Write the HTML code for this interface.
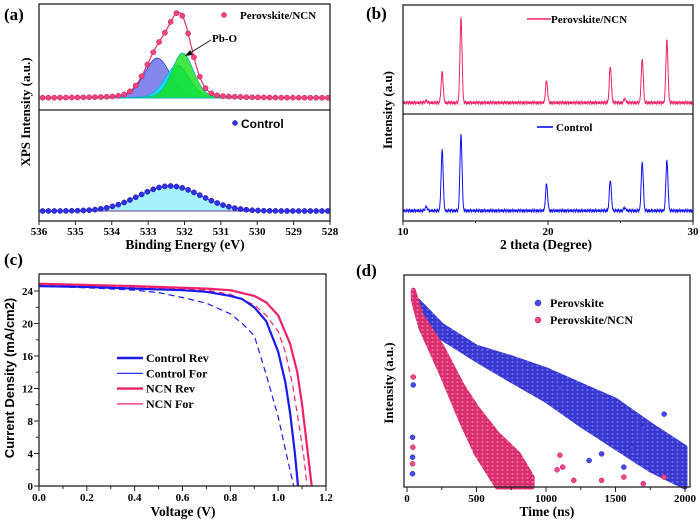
<!DOCTYPE html>
<html><head><meta charset="utf-8"><style>
html,body{margin:0;padding:0;background:#fff;}
svg{display:block;font-family:"Liberation Serif",serif;font-weight:bold;}
.s{font-family:"Liberation Sans",sans-serif;}
</style></head><body>
<svg id="fig" width="700" height="521" viewBox="0 0 700 521" xmlns="http://www.w3.org/2000/svg">
<defs>
<pattern id="bluedots" width="5" height="4" patternUnits="userSpaceOnUse"><rect width="5" height="4" fill="#3b3bd8"/><circle cx="2.5" cy="2" r="1.6" fill="#6a6af0" stroke="#1a1ab0" stroke-width="0.5"/></pattern>
<pattern id="pinkdots" width="5" height="4" patternUnits="userSpaceOnUse"><rect width="5" height="4" fill="#e0306f"/><circle cx="2.5" cy="2" r="1.6" fill="#f36a98" stroke="#c01050" stroke-width="0.5"/></pattern>
</defs>
<g id="gA"></g>
<g id="gB"></g>
<g id="gC"></g>
<g id="gD"></g>
</svg>
<script>
// ---------- Panel (a) data: XPS O1s fit ----------
const aTopCenters = [532.75, 532.2, 532.05];
const aTopHeights = [40, 33, 45];
const aTopSigmas = [0.36, 0.33, 0.30];
const aTopColors = ["#6f73ea", "#00eef2", "#14e014"];
const aBotCenters = [532.4];
const aBotHeights = [25];
const aBotSigmas = [0.86];
const aTicks = [536, 535, 534, 533, 532, 531, 530, 529, 528];
// ---------- Panel (b) data: XRD ----------
const bPeakPos = [11.6, 12.7, 14.0, 19.9, 24.3, 25.3, 26.5, 28.2];
const bNcnHeights = [2, 31, 86, 22, 37, 4, 44, 64];
const bCtrlHeights = [4, 61, 77, 27, 31, 3, 49, 51];
const bNoise = [1,2,0,3,1,2,1,0,2,3,1,1,2,0,1,3,2,1,0,2,1,3,1,2,0,1,2,3,1,0,2,1];
const bTicks = [10, 20, 30];
// ---------- Panel (c) data: J-V ----------
const cCtrlRevV = [0,0.2,0.4,0.6,0.7,0.8,0.85,0.9,0.95,1.0,1.03,1.05,1.07,1.083];
const cCtrlRevJ = [24.6,24.5,24.3,24.1,23.9,23.4,23.0,22.0,20.3,16.5,12.8,9,4,0];
const cCtrlForV = [0,0.2,0.4,0.5,0.6,0.7,0.8,0.85,0.9,0.95,1.0,1.04,1.065];
const cCtrlForJ = [24.6,24.4,24.1,23.8,23.2,22.5,21.2,20.0,18.5,13.7,8.5,3.2,0];
const cNcnRevV = [0,0.4,0.7,0.8,0.9,0.95,1.0,1.05,1.08,1.1,1.12,1.14];
const cNcnRevJ = [24.9,24.6,24.3,24.1,23.4,22.6,21,17.5,14,10,5,0];
const cNcnForV = [0,0.4,0.7,0.8,0.9,0.95,1.0,1.03,1.06,1.09,1.11,1.12];
const cNcnForJ = [24.8,24.5,24.1,23.6,22.3,21,19,16.5,12.5,7,3,0];
const cXTicks = [0,0.2,0.4,0.6,0.8,1.0,1.2];
const cYTicks = [0,4,8,12,16,20,24];
// ---------- Panel (d) data: TRPL (log intensity envelopes) ----------
const dBlueT = [60,250,500,750,1000,1250,1500,1750,2000];
const dBlueUpper = [2.85,2.44,2.11,1.95,1.77,1.54,1.31,0.94,0.60];
const dBlueLower = [2.75,2.25,1.92,1.61,1.31,0.94,0.60,0.26,0];
const dPinkT = [45,100,250,400,500,650,800,900];
const dPinkUpper = [2.97,2.6,2.12,1.52,1.2,0.8,0.5,0.15];
const dPinkLower = [2.82,2.4,1.7,0.95,0.5,0,0,0];
const dBlueOutT = [45,40,40,40,1100,1310,1400,1560,1620,1700,1850];
const dBlueOutL = [1.54,0.75,0.45,0.2,1.5,0.4,0.5,0.3,0.6,0.9,1.1];
const dPinkOutT = [45,42,40,1100,1080,1120,1200,1400,1560,1700,1850];
const dPinkOutL = [1.66,0.6,0.35,0.48,0.26,0.3,0.1,0.1,0.15,0.05,0.15];
const dTicks = [0,500,1000,1500,2000];

const NS="http://www.w3.org/2000/svg";
function mk(parent, tag, attrs, text){const e=document.createElementNS(NS,tag);for(const k in attrs)e.setAttribute(k,attrs[k]);if(text!==undefined)e.textContent=text;parent.appendChild(e);return e;}
function gauss(x,c,h,s){return h*Math.exp(-((x-c)*(x-c))/(2*s*s));}
function voigt(x,c,h,s){const g=s*1.18;return h*(0.8*Math.exp(-((x-c)*(x-c))/(2*s*s))+0.2/(1+((x-c)/g)*((x-c)/g)));}
function pts(arr){return arr.map(p=>p[0].toFixed(1)+","+p[1].toFixed(1)).join(" ");}

// ======= Panel A =======
(function(){
const g=document.getElementById('gA');
const xa=e=>39+(536-e)*36.375;
const topBase=98, botBase=211;
for(let i=0;i<aTopCenters.length;i++){
  const p=[[xa(536),topBase]];
  for(let e=536;e>=528;e-=0.02)p.push([xa(e),topBase-voigt(e,aTopCenters[i],aTopHeights[i],aTopSigmas[i])]);
  p.push([xa(528),topBase]);
  const el=mk(g,'polygon',{points:pts(p),fill:aTopColors[i],'fill-opacity':i==0?0.85:0.8,stroke:i==0?"#2a40d0":"#10b0c0",'stroke-width':0.8});
  
  
}
const env=[];
for(let e=536;e>=528;e-=0.02){let s=0;for(let i=0;i<aTopCenters.length;i++)s+=voigt(e,aTopCenters[i],aTopHeights[i],aTopSigmas[i]);env.push([xa(e),topBase-s]);}
let el=mk(g,'polyline',{points:pts(env),fill:'none',stroke:'#e8306a','stroke-width':1.2});


for(let e=535.9;e>=528;e-=0.16){let s=0;for(let i=0;i<aTopCenters.length;i++)s+=voigt(e,aTopCenters[i],aTopHeights[i],aTopSigmas[i]);
  const d=mk(g,'circle',{cx:xa(e),cy:topBase-s,r:2.6,fill:'#f2457e',stroke:'#c0104a','stroke-width':0.5});
  
  }
const bp=[[xa(536),botBase]];
for(let e=536;e>=528;e-=0.02){let s=0;for(let i=0;i<aBotCenters.length;i++)s+=gauss(e,aBotCenters[i],aBotHeights[i],aBotSigmas[i]);bp.push([xa(e),botBase-s]);}
bp.push([xa(528),botBase]);
el=mk(g,'polygon',{points:pts(bp),fill:'#a6f2fa',stroke:'#6a3a8a','stroke-width':1});


for(let e=535.9;e>=528;e-=0.16){let s=0;for(let i=0;i<aBotCenters.length;i++)s+=gauss(e,aBotCenters[i],aBotHeights[i],aBotSigmas[i]);
  const d=mk(g,'circle',{cx:xa(e),cy:botBase-s,r:2.6,fill:'#3030e8',stroke:'#1010a0','stroke-width':0.5});
  
  }
el=mk(g,'rect',{x:39,y:4,width:291,height:217,fill:'none',stroke:'#222','stroke-width':1.3});


el=mk(g,'line',{x1:39,y1:110,x2:330,y2:110,stroke:'#222','stroke-width':1.3});


aTicks.forEach(t=>{
  const tk=mk(g,'line',{x1:xa(t),y1:221,x2:xa(t),y2:225,stroke:'#222','stroke-width':1});
  
  
  const tl=mk(g,'text',{x:xa(t),y:235,'font-size':11,'text-anchor':'middle'},String(t));
  
  
});
el=mk(g,'text',{x:185,y:249,'font-size':13.5,'text-anchor':'middle'},'Binding Energy (eV)');


el=mk(g,'text',{x:0,y:0,'font-size':13,'text-anchor':'middle',transform:'translate(30,112) rotate(-90)'},'XPS Intensity (a.u.)');


el=mk(g,'text',{x:4,y:20,'font-size':17},'(a)');


el=mk(g,'circle',{cx:224,cy:15,r:2.5,fill:'#f2457e',stroke:'#c0104a','stroke-width':0.5});


el=mk(g,'text',{x:240,y:19,'font-size':11},'Perovskite/NCN');


el=mk(g,'text',{x:212,y:42,'font-size':11},'Pb-O');


el=mk(g,'line',{x1:211,y1:40,x2:190,y2:53,stroke:'#111','stroke-width':1});


el=mk(g,'polygon',{points:'185,56 190,50 193,55',fill:'#111'});


el=mk(g,'circle',{cx:235,cy:123,r:2.5,fill:'#3030e8',stroke:'#1010a0','stroke-width':0.5});


el=mk(g,'text',{x:241,y:128,'font-size':12,'class':'s'},'Control');


})();

// ======= Panel B =======
(function(){
const g=document.getElementById('gB');
const xb=t=>403+(t-10)*14.5;
function trace(base,heights,color,name){
  const p=[];let k=0;
  for(let t=10;t<=30.001;t+=0.03){
    let s=bNoise[k%bNoise.length]*0.9; k++;
    for(let i=0;i<bPeakPos.length;i++)s+=gauss(t,bPeakPos[i],heights[i],0.07);
    p.push([xb(t),base-s]);
  }
  const el=mk(g,'polyline',{points:pts(p),fill:'none',stroke:color,'stroke-width':1});
  
  
}
trace(104,bNcnHeights,'#f0206a','xrd-ncn-trace');
trace(212,bCtrlHeights,'#1010f0','xrd-control-trace');
let el=mk(g,'rect',{x:403,y:5,width:290,height:216,fill:'none',stroke:'#222','stroke-width':1.3});


el=mk(g,'line',{x1:403,y1:114,x2:693,y2:114,stroke:'#222','stroke-width':1.3});


[15,25].forEach(t=>{const m=mk(g,'line',{x1:xb(t),y1:221,x2:xb(t),y2:223,stroke:'#222'});
  
  });
bTicks.forEach(t=>{
  const tk=mk(g,'line',{x1:xb(t),y1:221,x2:xb(t),y2:225,stroke:'#222'});
  
  
  const tl=mk(g,'text',{x:xb(t),y:235,'font-size':11,'text-anchor':'middle'},String(t));
  
  
});
el=mk(g,'text',{x:546,y:249,'font-size':13.5,'text-anchor':'middle'},'2 theta (Degree)');


el=mk(g,'text',{x:0,y:0,'font-size':13,'text-anchor':'middle',transform:'translate(392,110) rotate(-90)'},'Intensity (a.u)');


el=mk(g,'text',{x:366,y:19,'font-size':17},'(b)');


el=mk(g,'line',{x1:527,y1:19,x2:551,y2:19,stroke:'#f0206a','stroke-width':1.6});


el=mk(g,'text',{x:551,y:23,'font-size':11},'Perovskite/NCN');


el=mk(g,'line',{x1:537,y1:127,x2:553,y2:127,stroke:'#1010f0','stroke-width':1.6});


el=mk(g,'text',{x:556,y:131,'font-size':11},'Control');


})();

// ======= Panel C =======
(function(){
const g=document.getElementById('gC');
const xc=v=>39+v*239.17, yc=j=>486-j*8.125;
function curve(V,J,color,w,dash,name){
  const el=mk(g,'polyline',{points:pts(V.map((v,i)=>[xc(v),yc(J[i])])),fill:'none',stroke:color,'stroke-width':w,'stroke-dasharray':dash,'stroke-linejoin':'round'});
  
  
}
curve(cCtrlForV,cCtrlForJ,'#1a1af0',1.2,'6,4','control-for-curve');
curve(cNcnForV,cNcnForJ,'#f0206a',1.2,'6,4','ncn-for-curve');
curve(cCtrlRevV,cCtrlRevJ,'#1a1af0',2.2,'none','control-rev-curve');
curve(cNcnRevV,cNcnRevJ,'#f0206a',2.2,'none','ncn-rev-curve');
let el=mk(g,'rect',{x:39,y:274,width:287,height:212,fill:'none',stroke:'#222','stroke-width':1.3});


for(let v=0.1;v<1.2;v+=0.2){const m=mk(g,'line',{x1:xc(v),y1:486,x2:xc(v),y2:489,stroke:'#222'});
  
  }
for(let j=2;j<26;j+=4){const m=mk(g,'line',{x1:36,y1:yc(j),x2:39,y2:yc(j),stroke:'#222'});
  
  }
cXTicks.forEach(t=>{
  const tk=mk(g,'line',{x1:xc(t),y1:486,x2:xc(t),y2:491,stroke:'#222'});
  
  
  const tl=mk(g,'text',{x:xc(t),y:501,'font-size':11,'text-anchor':'middle'},t.toFixed(1));
  
  
});
cYTicks.forEach(t=>{
  const tk=mk(g,'line',{x1:34,y1:yc(t),x2:39,y2:yc(t),stroke:'#222'});
  
  
  const tl=mk(g,'text',{x:33,y:yc(t)+4,'font-size':11,'text-anchor':'end'},String(t));
  
  
});
el=mk(g,'text',{x:183,y:516,'font-size':13.5,'text-anchor':'middle'},'Voltage (V)');


el=mk(g,'text',{x:0,y:0,'font-size':13,'text-anchor':'middle','class':'s',transform:'translate(14,378) rotate(-90)'},'Current Density (mA/cm2)');


el=mk(g,'text',{x:4,y:265,'font-size':17},'(c)');


const leg=[['Control Rev','#1a1af0',2.4],['Control For','#1a1af0',1.2],['NCN Rev','#f0206a',2.4],['NCN For','#f0206a',1.2]];
leg.forEach((L,i)=>{
  const y=358+i*15.3;
  const ln=mk(g,'line',{x1:117,y1:y,x2:143,y2:y,stroke:L[1],'stroke-width':L[2]});
  
  
  const tx=mk(g,'text',{x:146,y:y+4,'font-size':12},L[0]);
  
  
});
})();

// ======= Panel D =======
(function(){
const g=document.getElementById('gD');
const xd=t=>407+t*0.139, yd=l=>487-l*66.25;
function band(T,U,Lo,fill,name){
  const p=T.map((t,i)=>[xd(t),yd(U[i])]).concat(T.slice().reverse().map((t,i)=>[xd(t),yd(Lo[T.length-1-i])]));
  const el=mk(g,'polygon',{points:pts(p),fill:fill,stroke:fill,'stroke-width':5,'stroke-linejoin':'round'});
  
  
}
band(dBlueT,dBlueUpper,dBlueLower,'url(#bluedots)','trpl-perovskite-points');
band(dPinkT,dPinkUpper,dPinkLower,'url(#pinkdots)','trpl-ncn-points');
dBlueOutT.forEach((t,i)=>{const c=mk(g,'circle',{cx:xd(t),cy:yd(dBlueOutL[i]),r:2.5,fill:'#4a4ae8',stroke:'#1a1ab0','stroke-width':0.5});
  
  });
dPinkOutT.forEach((t,i)=>{const c=mk(g,'circle',{cx:xd(t),cy:yd(dPinkOutL[i]),r:2.5,fill:'#f04a88',stroke:'#c01050','stroke-width':0.5});
  
  });
let el=mk(g,'rect',{x:404,y:275,width:286,height:212,fill:'none',stroke:'#222','stroke-width':1.3});


for(let t=250;t<2000;t+=500){const m=mk(g,'line',{x1:xd(t),y1:487,x2:xd(t),y2:490,stroke:'#222'});
  
  }
dTicks.forEach(t=>{
  const tk=mk(g,'line',{x1:xd(t),y1:487,x2:xd(t),y2:492,stroke:'#222'});
  
  
  const tl=mk(g,'text',{x:xd(t),y:502,'font-size':11,'text-anchor':'middle'},String(t));
  
  
});
el=mk(g,'text',{x:547,y:516,'font-size':13.5,'text-anchor':'middle'},'Time (ns)');


el=mk(g,'text',{x:0,y:0,'font-size':13,'text-anchor':'middle',transform:'translate(393,383) rotate(-90)'},'Intensity (a.u.)');


el=mk(g,'text',{x:356,y:276,'font-size':17},'(d)');


el=mk(g,'circle',{cx:538,cy:303,r:3,fill:'#4a4ae8',stroke:'#1a1ab0','stroke-width':0.5});


el=mk(g,'text',{x:550,y:307,'font-size':12},'Perovskite');


el=mk(g,'circle',{cx:538,cy:320,r:3,fill:'#f04a88',stroke:'#c01050','stroke-width':0.5});


el=mk(g,'text',{x:550,y:324,'font-size':12},'Perovskite/NCN');


})();
</script>
</body></html>
